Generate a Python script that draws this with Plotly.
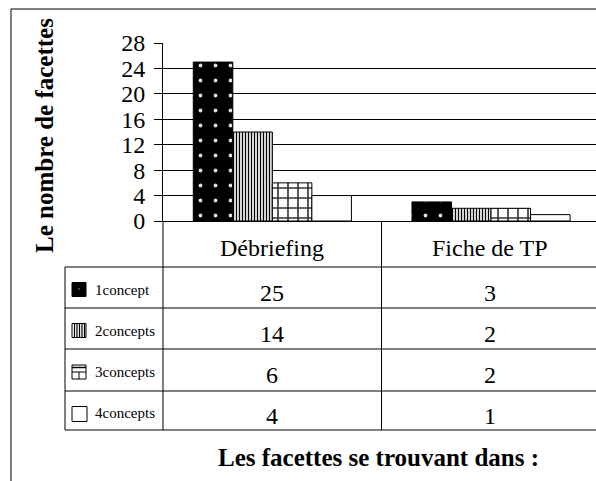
import plotly.graph_objects as go

# Data
categories = ["Débriefing", "Fiche de TP"]
series_names = ["1concept", "2concepts", "3concepts", "4concepts"]
v_1concept = [25, 3]
v_2concepts = [14, 2]
v_3concepts = [6, 2]
v_4concepts = [4, 1]
y_ticks = [0, 4, 8, 12, 16, 20, 24, 28]

series_values = [v_1concept, v_2concepts, v_3concepts, v_4concepts]

W, H = 596, 481
L, R, T, B = 163, 0, 43, 260
PW, PH = W - L - R, H - T - B
FONT = "Liberation Serif, Times New Roman, serif"


def px(x):
    return (x - L) / PW


def py(y):
    return (H - B - y) / PH


patterns = [
    dict(shape=".", bgcolor="black", fgcolor="#dddddd", size=15, solidity=0.05, fillmode="replace"),
    dict(shape="|", bgcolor="white", fgcolor="black", size=3, solidity=0.45, fillmode="replace"),
    dict(shape="+", bgcolor="white", fgcolor="#333", size=10, solidity=0.3, fillmode="replace"),
    dict(shape="", bgcolor="white"),
]

xpos = list(range(len(categories)))
fig = go.Figure()
for name, vals, pat in zip(series_names, series_values, patterns):
    fig.add_trace(go.Bar(
        x=xpos, y=vals, name=name,
        marker=dict(color="white", line=dict(color="black", width=1), pattern=pat),
        showlegend=False, hoverinfo="skip",
    ))

shapes = []


def hline(y, x0, x1, w=1):
    shapes.append(dict(type="line", xref="paper", yref="paper",
                       x0=px(x0), x1=px(x1), y0=py(y), y1=py(y),
                       line=dict(color="black", width=w)))


def vline(x, y0, y1, w=1):
    shapes.append(dict(type="line", xref="paper", yref="paper",
                       x0=px(x), x1=px(x), y0=py(y0), y1=py(y1),
                       line=dict(color="black", width=w)))


def rect(x0, y0, x1, y1, fill="white", w=1):
    shapes.append(dict(type="rect", xref="paper", yref="paper",
                       x0=px(x0), x1=px(x1), y0=py(y1), y1=py(y0),
                       fillcolor=fill, line=dict(color="black", width=w)))


# outer frame
hline(9, 11, 596)
vline(11, 9, 481)

# data table grid
row_edges = [267, 308, 349, 391, 430]
for y in row_edges:
    hline(y, 65, 596)
vline(65, 267, 430)
vline(163, 221, 430)
vline(381.5, 221, 430)

annotations = []


def text(x, y, s, size, bold=False, xanchor="center", angle=0):
    annotations.append(dict(
        xref="paper", yref="paper", x=px(x), y=py(y), text=f"<b>{s}</b>" if bold else s,
        showarrow=False, xanchor=xanchor, yanchor="middle", textangle=angle,
        font=dict(family=FONT, size=size, color="black"),
    ))


cat_centers = [272, 490]
for cx, c in zip(cat_centers, categories):
    text(cx, 248, c, 24)

for i, (name, vals) in enumerate(zip(series_names, series_values)):
    y0, y1 = row_edges[i], row_edges[i + 1]
    cy = (y0 + y1) / 2 + 4
    text(93, cy - 2, name, 15, xanchor="left")
    for cx, v in zip(cat_centers, vals):
        text(cx, cy + 1, str(v), 24)

    # legend keys
    k0, k1 = 72, 86
    ky0, ky1 = cy - 9, cy + 5
    if i == 0:
        rect(k0, ky0, k1, ky1, fill="black")
        rect(78.5, (ky0 + ky1) / 2 - 1, 79.5, (ky0 + ky1) / 2 + 0, fill="white", w=0)
    elif i == 1:
        rect(k0, ky0, k1, ky1)
        for xx in [74.5, 77, 79.5, 82, 84.5]:
            vline(xx, ky0, ky1, 1.2)
    elif i == 2:
        rect(k0, ky0, k1, ky1)
        hline(ky0 + 2.5, k0, k1, 1.5)
        hline(ky0 + 7, k0, k1)
        vline((k0 + k1) / 2, ky0 + 7, ky1)
    else:
        rect(k0, ky0 + 1, k1 + 1, ky1 + 2)

# axis titles
text(44, 136, "Le nombre de facettes", 25, bold=True, angle=-90)
text(378, 457, "Les facettes se trouvant dans :", 25, bold=True)

fig.update_layout(
    width=W, height=H,
    margin=dict(l=L, r=R, t=T, b=B, pad=0),
    paper_bgcolor="white", plot_bgcolor="white",
    barmode="group", bargap=0.277, bargroupgap=0,
    shapes=shapes, annotations=annotations,
    xaxis=dict(range=[-0.5, 1.48], showticklabels=False, showgrid=False, zeroline=False,
               showline=True, linecolor="black", linewidth=1, ticks=""),
    yaxis=dict(range=[0, 28], tickvals=y_ticks, showgrid=True, gridcolor="black", gridwidth=1,
               zeroline=False, showline=True, linecolor="black", linewidth=1,
               ticks="outside", ticklen=8, tickcolor="black", ticklabelstandoff=4,
               tickfont=dict(family=FONT, size=24, color="black")),
)

fig.write_html("out.html")
